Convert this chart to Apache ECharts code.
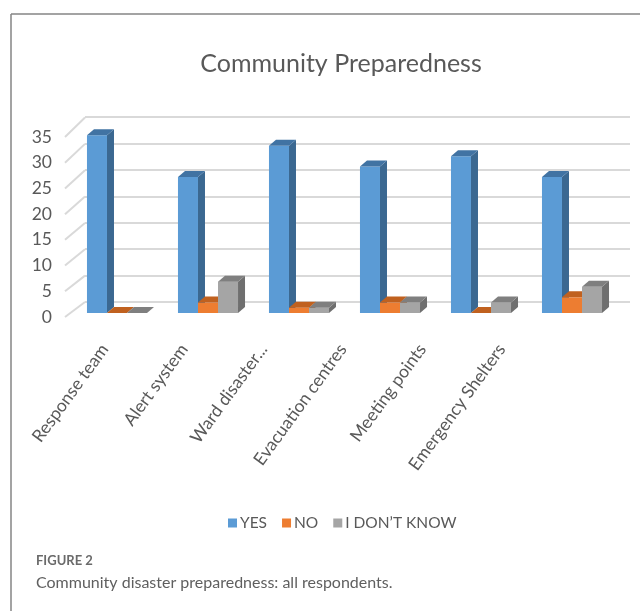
<!DOCTYPE html>
<html>
<head>
<meta charset="utf-8">
<script src="https://cdn.jsdelivr.net/npm/echarts@6/dist/echarts.min.js"></script>
<style>
html,body{margin:0;padding:0;background:#fff;}
#chart{width:640px;height:611px;}
</style>
</head>
<body>
<div id="chart"></div>
<script>
const categories = ['Response team', 'Alert system', 'Ward disaster...', 'Evacuation centres', 'Meeting points', 'Emergency Shelters'];
const yesValues = [34, 26, 32, 28, 30, 26];
const noValues = [0, 2, 1, 2, 0, 3];
const dontKnowValues = [0, 6, 1, 2, 2, 5];
const yTicks = [0, 5, 10, 15, 20, 25, 30, 35];
const seriesNames = ['YES', 'NO', 'I DON\u2019T KNOW'];

const palettes = [
  { front: '#5b9bd5', side: '#3b6891', top: '#4173a3' },
  { front: '#ed7d31', side: '#ad5a22', top: '#c0611f' },
  { front: '#a5a5a5', side: '#6f6f6f', top: '#7f7f7f' }
];

const FONT = 'Lato, "Open Sans", sans-serif';
const chart = echarts.init(document.getElementById('chart'), null, { renderer: 'canvas' });

function barRenderer(k) {
  const pal = palettes[k];
  return function (params, api) {
    const i = api.value(0), v = api.value(1);
    const top = api.coord([i, v]);
    const base = api.coord([i, 0]);
    const band = api.size([1, 0])[0];
    const w = band * 0.22;
    const x0 = top[0] + (k - 1) * w - w / 2;
    const x1 = x0 + w;
    const dx = 7, dy = -6;
    return {
      type: 'group',
      children: [
        { type: 'polygon', shape: { points: [[x1, top[1]], [x1 + dx, top[1] + dy], [x1 + dx, base[1] + dy], [x1, base[1]]] }, style: { fill: pal.side } },
        { type: 'rect', shape: { x: x0, y: top[1], width: w, height: base[1] - top[1] }, style: { fill: pal.front } },
        { type: 'polygon', shape: { points: [[x0, top[1]], [x0 + dx, top[1] + dy], [x1 + dx, top[1] + dy], [x1, top[1]]] }, style: { fill: pal.top } }
      ]
    };
  };
}

const valueSets = [yesValues, noValues, dontKnowValues];

const option = {
  animation: false,
  backgroundColor: '#ffffff',
  title: {
    text: 'Community Preparedness',
    left: 336, top: 46, textAlign: 'center',
    textStyle: { fontFamily: FONT, fontSize: 25, fontWeight: 'normal', color: '#595959' }
  },
  legend: {
    data: seriesNames,
    left: 223, top: 510,
    icon: 'rect', itemWidth: 9, itemHeight: 9, itemGap: 15,
    textStyle: { fontFamily: FONT, fontSize: 15.5, color: '#595959', padding: [0, 0, 0, -2] }
  },
  grid: [
    { left: 85, right: 10, top: 117, bottom: 309 },
    { left: 71.5, right: 22.5, top: 130, bottom: 298 },
    { left: 65, right: 98.6, top: 137, bottom: 294 }
  ],
  xAxis: [
    { gridIndex: 0, type: 'value', min: 0, max: 1, show: false },
    { gridIndex: 1, type: 'category', data: categories, show: false },
    {
      gridIndex: 2, type: 'category', data: categories,
      axisLine: { show: false }, axisTick: { show: false },
      axisLabel: { rotate: 54, margin: 29, interval: 0, fontFamily: FONT, fontSize: 17.5, color: '#595959' }
    },
    { gridIndex: 2, type: 'value', min: 0, max: 1, show: false, position: 'top' }
  ],
  yAxis: [
    {
      gridIndex: 0, type: 'value', min: 0, max: 35, interval: 5,
      axisLine: { show: false }, axisTick: { show: false }, axisLabel: { show: false },
      splitLine: { show: true, lineStyle: { color: '#d9d9d9', width: 2 } }
    },
    { gridIndex: 1, type: 'value', min: 0, max: 35, interval: 5, show: false },
    {
      gridIndex: 2, type: 'value', min: 0, max: 35, interval: 5,
      axisLine: { show: false }, axisTick: { show: false }, splitLine: { show: false },
      axisLabel: { margin: 13, fontFamily: FONT, fontSize: 17.5, color: '#595959' }
    }
  ],
  series: [
    {
      type: 'custom', name: 'gridslant', silent: true,
      xAxisIndex: 3, yAxisIndex: 2,
      data: yTicks.map(v => [0, v]),
      renderItem: function (params, api) {
        const v = api.value(1);
        const p = api.coord([0, v]);
        return {
          type: 'line',
          shape: { x1: p[0], y1: p[1], x2: p[0] + 20, y2: p[1] - 15 - v / 35 * 4.5 },
          style: { stroke: '#d9d9d9', lineWidth: 2 }
        };
      }
    }
  ].concat(valueSets.map((vals, k) => ({
    type: 'custom', name: seriesNames[k],
    xAxisIndex: 1, yAxisIndex: 1,
    itemStyle: { color: palettes[k].front },
    data: vals.map((v, i) => [i, v]),
    encode: { x: 0, y: 1 },
    renderItem: barRenderer(k)
  }))),
  graphic: [
    { type: 'line', shape: { x1: 11, y1: 14, x2: 11, y2: 611 }, style: { stroke: '#858585', lineWidth: 1.5 } },
    { type: 'line', shape: { x1: 11, y1: 14, x2: 640, y2: 14 }, style: { stroke: '#858585', lineWidth: 1.5 } },
    { type: 'text', left: 36, top: 554, style: { text: 'FIGURE 2', fontFamily: FONT, fontSize: 13, fontWeight: 'bold', fill: '#6a6a6a' } },
    { type: 'text', left: 36, top: 575, style: { text: 'Community disaster preparedness: all respondents.', fontFamily: FONT, fontSize: 16, fill: '#5f5f5f' } }
  ]
};
chart.setOption(option);
</script>
</body>
</html>
